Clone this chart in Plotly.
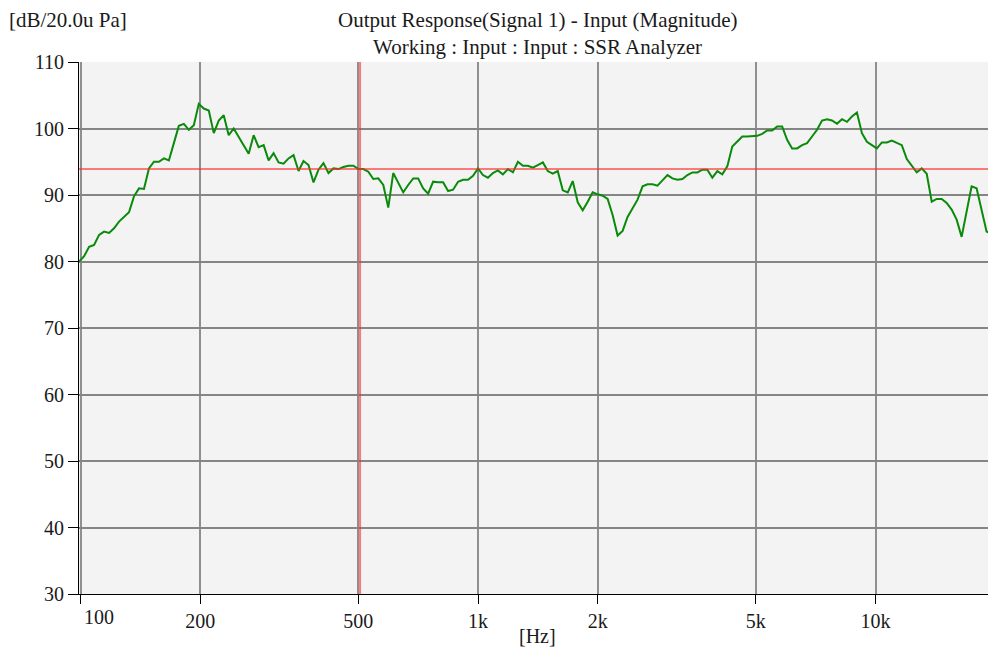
import plotly.graph_objects as go

# 1/24-octave frequencies (Hz)
freq_hz = [
    99.21, 102.12, 105.11, 108.19, 111.36, 114.63, 117.98, 121.44,
    125, 128.66, 132.44, 136.31, 140.31, 144.43, 148.65, 153.01, 157.49, 162.10, 166.85, 171.75,
    176.78, 181.96, 187.29, 192.78, 198.43, 204.24, 210.23, 216.39, 222.73, 229.25, 235.96, 242.89,
    250, 257.3, 264.9, 272.6, 280.6, 288.9, 297.3, 306.0, 315.0, 324.2, 333.7, 343.5,
    353.6, 363.9, 374.6, 385.6, 396.9, 408.5, 420.5, 432.8, 445.5, 458.5, 471.9, 485.8,
    500, 514.7, 529.7, 545.3, 561.2, 577.7, 594.6, 612.0, 630.0, 648.4, 667.4, 687.0,
    707.1, 727.8, 749.2, 771.1, 793.7, 817.0, 840.9, 865.6, 890.9, 917.0, 943.9, 971.6,
    1000, 1029, 1059, 1090, 1122, 1155, 1189, 1224, 1260, 1297, 1335, 1374,
    1414, 1456, 1498, 1542, 1587, 1634, 1682, 1731, 1782, 1834, 1888, 1943,
    2000, 2059, 2119, 2181, 2245, 2311, 2378, 2448, 2520, 2594, 2670, 2748,
    2828, 2911, 2997, 3084, 3175, 3268, 3364, 3462, 3564, 3668, 3775, 3886,
    4000, 4117, 4238, 4362, 4490, 4622, 4757, 4896, 5040, 5187, 5339, 5496,
    5657, 5823, 5993, 6169, 6350, 6536, 6727, 6924, 7127, 7336, 7551, 7772,
    8000, 8235, 8476, 8724, 8980, 9243, 9514, 9793, 10079, 10375, 10679, 10992,
    11314, 11646, 11987, 12338, 12699, 13071, 13454, 13849, 14254, 14672, 15102, 15545,
    16000, 16469, 16951, 17448, 17959, 18486, 19027, 19585,
]

# Magnitude (dB re 20 uPa)
level_db = [
    80.0, 80.8, 82.2, 82.5, 84.0, 84.5, 84.3, 85.0,
    86.0, 86.7, 87.4, 89.8, 91.0, 90.9, 94.0, 95.0, 95.0, 95.5, 95.2, 97.8,
    100.4, 100.7, 99.8, 100.5, 103.7, 103.0, 102.7, 99.3, 101.2, 102.0, 99.0, 100.0,
    98.7, 97.3, 96.2, 99.0, 97.2, 97.5, 95.2, 96.3, 94.9, 94.7, 95.5, 96.0,
    93.6, 95.1, 94.5, 91.9, 93.8, 94.8, 93.3, 94.0, 93.9, 94.2, 94.4, 94.4,
    93.9, 93.9, 93.5, 92.4, 92.5, 91.5, 88.1, 93.3, 91.9, 90.4, 91.5, 92.5,
    92.5, 91.0, 90.2, 92.0, 91.9, 91.9, 90.6, 90.8, 92.0, 92.3, 92.3, 92.9,
    94.0, 93.0, 92.6, 93.3, 93.7, 93.1, 93.9, 93.4, 95.0, 94.4, 94.4, 94.1,
    94.5, 94.9, 93.6, 93.2, 93.6, 90.7, 90.4, 92.1, 88.9, 87.7, 89.0, 90.4,
    90.1, 89.9, 89.4, 87.0, 83.9, 84.6, 86.7, 88.0, 89.3, 91.3, 91.6, 91.6,
    91.4, 92.2, 93.0, 92.5, 92.3, 92.4, 93.0, 93.4, 93.4, 93.8, 93.8, 92.6,
    93.6, 93.1, 94.3, 97.3, 98.0, 98.8, 98.8, 98.8, 98.9, 99.2, 99.7, 99.7,
    100.3, 100.3, 98.3, 97.0, 97.0, 97.5, 97.8, 98.8, 99.8, 101.2, 101.4, 101.2,
    100.7, 101.4, 101.0, 101.8, 102.4, 99.3, 98.0, 97.5, 97.0, 97.9, 97.9, 98.2,
    97.9, 97.5, 95.4, 94.3, 93.4, 94.0, 93.2, 89.0, 89.4, 89.4, 88.8, 87.8,
    86.3, 83.7, 87.5, 91.3, 91.0, 87.8, 84.5, 84.2,
]

# Cursor position
cursor_freq = 505
cursor_db = 93.9

x_tick_vals = [100, 200, 500, 1000, 2000, 5000, 10000]
x_tick_text = ["", "200", "500", "1k", "2k", "5k", "10k"]
y_tick_vals = [30, 40, 50, 60, 70, 80, 90, 100, 110]

FONT = "Liberation Serif"
TXT = "#1a1a1a"

fig = go.Figure()
fig.add_trace(go.Scatter(
    x=freq_hz, y=level_db, mode="lines",
    line=dict(color="#0a8a0a", width=2), hoverinfo="skip", showlegend=False,
))
fig.add_trace(go.Scatter(
    x=[cursor_freq, cursor_freq], y=[20, 120], mode="lines",
    line=dict(color="rgba(255,40,40,0.6)", width=2), showlegend=False,
))
fig.add_trace(go.Scatter(
    x=[90, 21000], y=[cursor_db, cursor_db], mode="lines",
    line=dict(color="rgba(255,40,40,0.6)", width=2), showlegend=False,
))

fig.update_layout(
    width=988, height=649,
    margin=dict(l=79, r=0, t=62, b=55),
    paper_bgcolor="white", plot_bgcolor="#f3f3f3",
    font=dict(family=FONT, size=20, color=TXT),
    showlegend=False,
    xaxis=dict(
        type="log", range=[1.9962, 4.2830],
        tickvals=x_tick_vals, ticktext=x_tick_text,
        ticks="outside", ticklen=9, tickcolor="black", tickwidth=1,
        showline=True, linecolor="black", linewidth=1,
        showgrid=True, gridcolor="#8f8f8f", gridwidth=1.5,
        zeroline=False, tickfont=dict(family=FONT, size=20, color=TXT),
    ),
    yaxis=dict(
        range=[30, 110], tickvals=y_tick_vals,
        ticks="outside", ticklen=10, tickcolor="black", tickwidth=1,
        showline=True, linecolor="black", linewidth=1,
        showgrid=True, gridcolor="#858585", gridwidth=1.5,
        zeroline=False, tickfont=dict(family=FONT, size=20, color=TXT),
    ),
    annotations=[
        dict(text="Output Response(Signal 1) - Input (Magnitude)", xref="paper", yref="paper",
             x=0.5, y=1, yshift=42, xshift=4, showarrow=False, xanchor="center", yanchor="middle",
             font=dict(family=FONT, size=21, color=TXT)),
        dict(text="Working : Input : Input : SSR Analyzer", xref="paper", yref="paper",
             x=0.5, y=1, yshift=15, xshift=4, showarrow=False, xanchor="center", yanchor="middle",
             font=dict(family=FONT, size=21, color=TXT)),
        dict(text="[dB/20.0u Pa]", xref="paper", yref="paper",
             x=0, y=1, xshift=-72, yshift=42, showarrow=False, xanchor="left", yanchor="middle",
             font=dict(family=FONT, size=21, color=TXT)),
        dict(text="[Hz]", xref="paper", yref="paper",
             x=0.5, y=0, xshift=4, yshift=-42, showarrow=False, xanchor="center", yanchor="middle",
             font=dict(family=FONT, size=20, color=TXT)),
        dict(text="100", xref="x", yref="paper",
             x=2, y=0, xshift=1, yshift=-23, showarrow=False, xanchor="left", yanchor="middle",
             font=dict(family=FONT, size=20, color=TXT)),
    ],
)

fig.write_html("out.html", config={"displayModeBar": False},
               post_script="document.body.style.margin='0';")
